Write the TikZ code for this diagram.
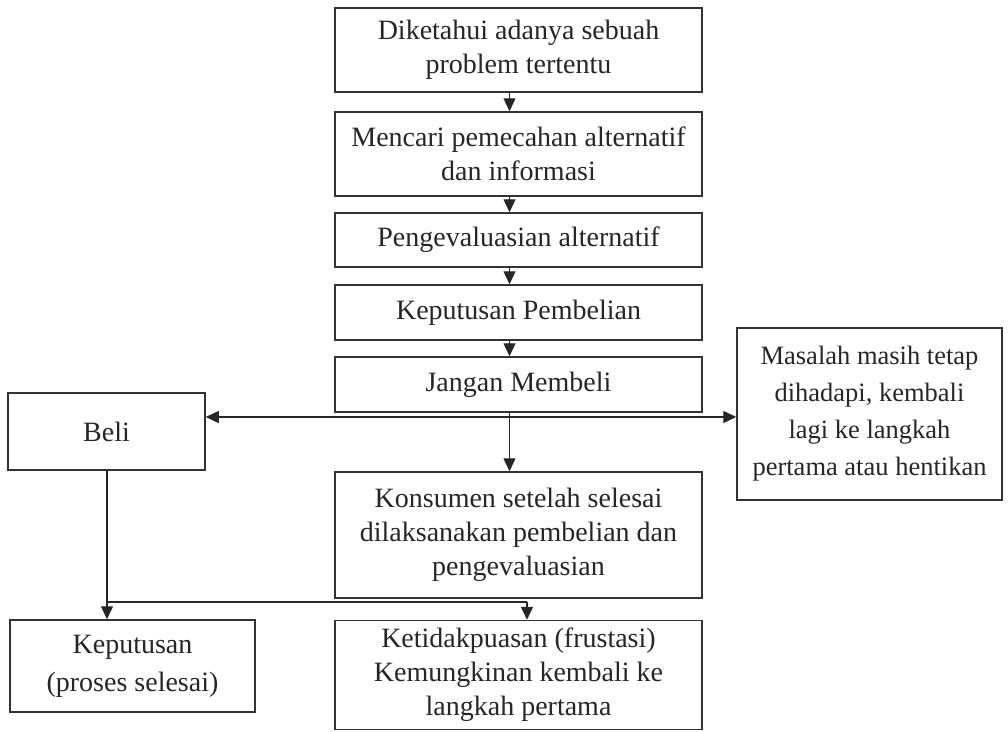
\documentclass[tikz,border=0pt]{standalone}
\usepackage{fontspec}
\setmainfont{Liberation Serif}
\usetikzlibrary{arrows.meta}
\begin{document}
\begin{tikzpicture}[x=1pt,y=-1pt,
  box/.style={draw=black!80, line width=1.5pt, align=center, inner sep=0pt,
    font=\fontsize{28}{34}\selectfont, text=black!85},
  arr/.style={draw=black!85, line width=1.4pt, -{Triangle[length=13pt,width=12pt]}},
  dbl/.style={draw=black!85, line width=1.4pt, {Triangle[length=13pt,width=12pt]}-{Triangle[length=13pt,width=12pt]}},
  ln/.style={draw=black!85, line width=1.4pt}]
\useasboundingbox (0,0) rectangle (1008,731);
\fill[white] (0,0) rectangle (1008,731);
\node[box, minimum width=367pt, minimum height=84pt] (b1) at (518.5,50) {Diketahui adanya sebuah\\problem tertentu};
\node[box, minimum width=367pt, minimum height=84pt] (b2) at (518.5,154) {Mencari pemecahan alternatif\\dan informasi};
\node[box, minimum width=367pt, minimum height=54pt] (b3) at (518.5,240) {Pengevaluasian alternatif};
\node[box, minimum width=367pt, minimum height=55pt] (b4) at (518.5,312.5) {Keputusan Pembelian};
\node[box, minimum width=367pt, minimum height=55pt] (b5) at (518.5,384.5) {Jangan Membeli};
\node[box, minimum width=197pt, minimum height=77pt] (beli) at (106.5,431.5) {Beli};
\node[box, minimum width=265pt, minimum height=172pt, font=\fontsize{26.5}{34}\selectfont] (mas) at (869.5,414) {Masalah masih tetap\\[3pt]dihadapi, kembali\\[3pt]lagi ke langkah\\[3pt]pertama atau hentikan};
\node[box, minimum width=367pt, minimum height=126pt] (kon) at (518.5,535) {Konsumen setelah selesai\\dilaksanakan pembelian dan\\pengevaluasian};
\node[box, minimum width=245pt, minimum height=92pt] (kep) at (132.5,666) {Keputusan\\[4pt](proses selesai)};
\node[box, minimum width=367pt, minimum height=109pt] (ket) at (518.5,675) {Ketidakpuasan (frustasi)\\Kemungkinan kembali ke\\langkah pertama};
\draw[arr] ([xshift=-9pt]b1.south) -- ([xshift=-9pt]b2.north);
\draw[arr] ([xshift=-9pt]b2.south) -- ([xshift=-9pt]b3.north);
\draw[arr] ([xshift=-9pt]b3.south) -- ([xshift=-9pt]b4.north);
\draw[arr] ([xshift=-9pt]b4.south) -- ([xshift=-9pt]b5.north);
\draw[arr] ([xshift=-9pt]b5.south) -- ([xshift=-9pt]kon.north);
\coordinate (mid) at (509,417);
\draw[dbl] (beli.east |- mid) -- (mas.west |- mid);
\coordinate (j1) at (107,602);
\coordinate (j2) at (527,602);
\draw[arr] (beli.south -| j1) -- (kep.north -| j1);
\draw[ln] (j1) -- (j2);
\draw[arr] (j2) -- (ket.north -| j2);
\end{tikzpicture}
\end{document}
